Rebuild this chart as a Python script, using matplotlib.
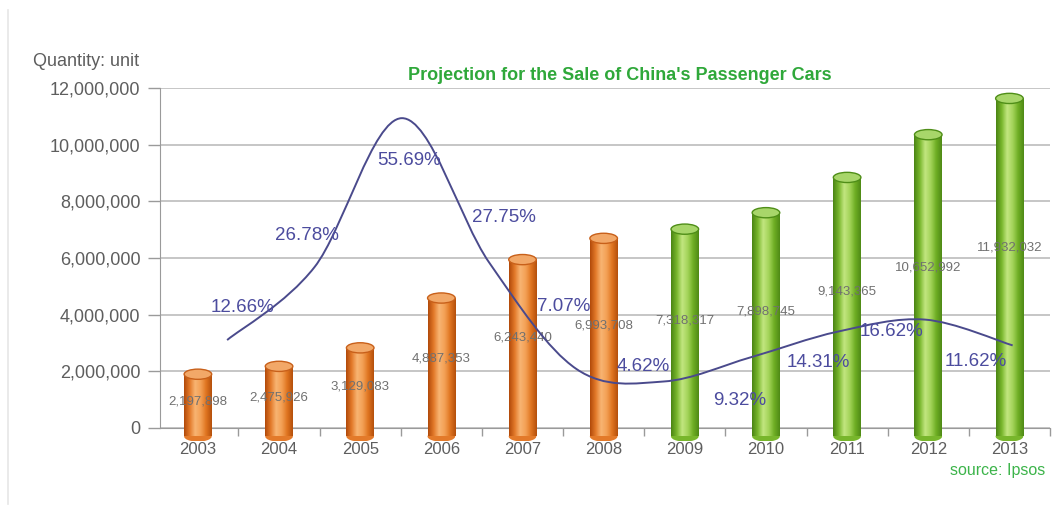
import numpy as np
import matplotlib
matplotlib.use("Agg")
import matplotlib.pyplot as plt
from matplotlib.patches import Rectangle, Ellipse, PathPatch
from matplotlib.path import Path
from matplotlib.colors import LinearSegmentedColormap
from matplotlib.lines import Line2D
from matplotlib.ticker import FuncFormatter, FixedLocator

# ---------------- data ----------------
years = ["2003", "2004", "2005", "2006", "2007", "2008",
         "2009", "2010", "2011", "2012", "2013"]
sales = [2197898, 2475926, 3129083, 4887353, 6243440, 6993708,
         7318317, 7898745, 9143365, 10652992, 11932032]
is_projection = [False, False, False, False, False, False,
                 True, True, True, True, True]
growth_pct = [12.66, 26.78, 55.69, 27.75, 7.07, 4.62, 9.32, 14.31, 16.62, 11.62]
y_ticks = [0, 2000000, 4000000, 6000000, 8000000, 10000000, 12000000]

# ---------------- style ----------------
plt.rcParams['font.family'] = ['Liberation Sans', 'DejaVu Sans']
TICK_COL = '#5e5e5e'
GRID_COL = '#c2c2c2'
LINE_COL = '#4a4a8c'
PCT_COL = '#4c4c9e'
TITLE_COL = '#2fa83a'

orange_stops = ['#b24a0a', '#e37a2a', '#f8b472', '#f3a055', '#df7420', '#b5500c']
green_stops = ['#4b8514', '#78b62c', '#c2e680', '#a4d45a', '#6fae24', '#4f8a16']
orange_cap = ('#f2a868', '#c8601a')
green_cap = ('#a8d66a', '#4f8e18')

fig = plt.figure(figsize=(10.55, 5.14), dpi=100)
fig.patch.set_facecolor('white')

W, H = 1055.0, 514.0
ax_left, ax_right = 160.0, 1050.0
ax_top, ax_bottom = 88.0, 440.75
ax = fig.add_axes([ax_left / W, 1 - ax_bottom / H,
                   (ax_right - ax_left) / W, (ax_bottom - ax_top) / H])

n = len(years)
xs = np.arange(n)
bar_w = 0.34
depth = 0.3e6          # 3-D perspective offset of the cylinders
cap_h = 0.36e6
y_lo, y_hi = -0.45e6, 12e6

# gridlines
for t in y_ticks:
    ax.axhline(t, color=GRID_COL, lw=1.3, zorder=1)

# cylinders
for i, (x, v, proj) in enumerate(zip(xs, sales, is_projection)):
    stops = green_stops if proj else orange_stops
    cap = green_cap if proj else orange_cap
    cmap = LinearSegmentedColormap.from_list('c', stops)
    grad = cmap(np.linspace(0, 1, 64))[np.newaxis, :, :]
    x0, x1 = x - bar_w / 2, x + bar_w / 2
    y0, y1 = -depth, v - depth
    ax.add_patch(Ellipse((x, y0), bar_w, cap_h, facecolor=stops[1],
                         edgecolor='none', zorder=3))
    im = ax.imshow(grad, extent=[x0, x1, y0, y1], aspect='auto',
                   zorder=3.1, interpolation='bilinear')
    clip = Rectangle((x0, y0), bar_w, v, transform=ax.transData)
    im.set_clip_path(clip)
    ax.add_patch(Ellipse((x, y1), bar_w, cap_h, facecolor=cap[0],
                         edgecolor=cap[1], lw=1.0, zorder=3.2))
    ax.text(x, 0.56 * v - 0.3e6, f"{v:,}", ha='center', va='center',
            fontsize=9.5, color='#707070', zorder=5)

ax.set_xlim(-0.467, 10.32)
ax.set_ylim(y_lo, y_hi)

# axes styling
for s in ['top', 'right']:
    ax.spines[s].set_visible(False)
ax.spines['bottom'].set_position(('data', 0))
ax.spines['bottom'].set_color('#9a9a9a')
ax.spines['left'].set_color('#9a9a9a')
ax.spines['bottom'].set_zorder(2)
ax.spines['left'].set_bounds(0, 12e6)

ax.yaxis.set_major_locator(FixedLocator(y_ticks))
ax.yaxis.set_major_formatter(FuncFormatter(lambda v, p: f"{int(v):,}"))
ax.tick_params(axis='y', length=9, width=1.0, color='#9a9a9a',
               labelsize=13, labelcolor=TICK_COL, pad=5)

ax.set_xticks(xs)
ax.set_xticklabels(years)
ax.set_xticks(np.arange(n) + 0.5, minor=True)
ax.tick_params(axis='x', which='major', length=0, labelsize=12,
               labelcolor=TICK_COL, pad=10)
ax.tick_params(axis='x', which='minor', length=6, width=1.0, color='#9a9a9a')

# growth curve on secondary scale
a_off, b_scale = 0.8e6, 0.182e6    # secondary scale: units of primary per 1 %
ax2 = ax.twinx()
ax2.set_zorder(ax.get_zorder() + 1)
ax2.set_ylim((y_lo - a_off) / b_scale, (y_hi - a_off) / b_scale)
ax2.set_xlim(ax.get_xlim())
ax2.set_axis_off()

line_x = np.linspace(0.36, 10.04, len(growth_pct))
pts = np.column_stack([line_x, growth_pct])
ext = np.vstack([pts[0], pts, pts[-1]])
verts = [tuple(pts[0])]
codes = [Path.MOVETO]
for k in range(len(pts) - 1):
    p0, p1, p2, p3 = ext[k], ext[k + 1], ext[k + 2], ext[k + 3]
    c1 = p1 + (p2 - p0) / 6.0
    c2 = p2 - (p3 - p1) / 6.0
    verts += [tuple(c1), tuple(c2), tuple(p2)]
    codes += [Path.CURVE4, Path.CURVE4, Path.CURVE4]
ax2.add_patch(PathPatch(Path(verts, codes), facecolor='none',
                        edgecolor=LINE_COL, lw=1.4, zorder=6))

pct_offsets = [(15, 33), (-7, 32), (7, -42), (15, 45), (-13, 62),
               (-20, 15), (-11, -43), (-20, -31), (-34, -12), (-37, -16)]
for x, p, off in zip(line_x, growth_pct, pct_offsets):
    ax2.annotate(f"{p:.2f}%", xy=(x, p), xytext=off, textcoords='offset pixels',
                 ha='center', va='center', fontsize=13.5, color=PCT_COL, zorder=7)

# titles and notes
fig.text(620 / W, 1 - 75 / H, "Projection for the Sale of China's Passenger Cars",
         ha='center', va='center', fontsize=13, fontweight='bold', color=TITLE_COL)
fig.text(33 / W, 1 - 62 / H, "Quantity: unit", ha='left', va='center',
         fontsize=13, color=TICK_COL)
fig.text(1045 / W, 1 - 470 / H, "source: Ipsos", ha='right', va='center',
         fontsize=11.5, color='#3cb44a')
fig.add_artist(Line2D([8 / W, 8 / W], [0.02, 0.98], color='#e6e6e6', lw=1.2))

fig.savefig("out.png", dpi=100, facecolor='white')
